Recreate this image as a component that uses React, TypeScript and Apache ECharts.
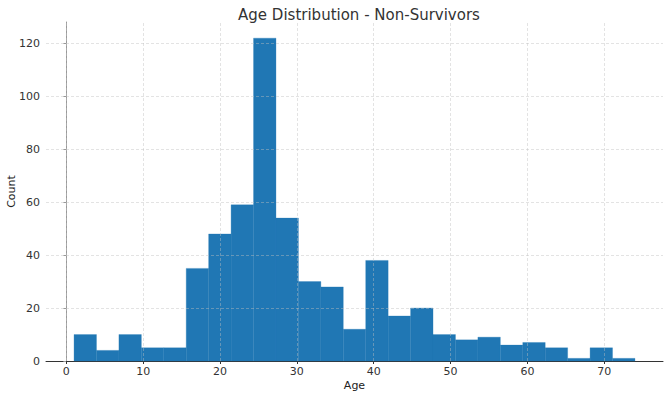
import React, { useEffect, useRef } from "react";
import * as echarts from "echarts";

const binStart = 1;
const binEnd = 74;
const counts = [10, 4, 10, 5, 5, 35, 48, 59, 122, 54, 30, 28, 12, 38, 17, 20, 10, 8, 9, 6, 7, 5, 1, 5, 1];
const xTicks = [0, 10, 20, 30, 40, 50, 60, 70];
const yTicks = [0, 20, 40, 60, 80, 100, 120];

export default function App() {
  const ref = useRef<HTMLDivElement>(null);
  useEffect(() => {
    const chart = echarts.init(ref.current!, undefined, { renderer: "svg" });
    const w = (binEnd - binStart) / counts.length;
    const data = counts.map((c, i) => [binStart + i * w, binStart + (i + 1) * w, c]);
    const font = "DejaVu Sans";
    const gridStyle = { color: "rgba(190,190,190,0.55)", type: [3, 2] as any, width: 0.8 };
    chart.setOption({
      animation: false,
      title: {
        text: "Age Distribution - Non-Survivors",
        left: 354,
        textAlign: "center",
        top: 2,
        textStyle: { fontFamily: font, fontSize: 15, fontWeight: "normal", color: "#333" },
      },
      grid: { left: 46, right: 4, top: 22, bottom: 35, outerBoundsMode: "none", containLabel: false },
      xAxis: {
        type: "value",
        min: -2.65,
        max: 77.65,
        name: "Age",
        nameLocation: "middle",
        nameGap: 19,
        nameMoveOverlap: false,
        nameTextStyle: { fontFamily: font, fontSize: 11, color: "#222" },
        axisLine: { show: true, lineStyle: { color: "#333", width: 1 } },
        axisTick: { show: true, customValues: xTicks, length: 3, lineStyle: { color: "#333" } },
        axisLabel: { customValues: xTicks, fontFamily: font, fontSize: 11, color: "#333", margin: 5 },
        splitLine: { show: false },
      },
      yAxis: {
        type: "value",
        min: 0,
        max: 128.1,
        name: "Count",
        nameLocation: "middle",
        nameGap: 29,
        nameMoveOverlap: false,
        nameTextStyle: { fontFamily: font, fontSize: 11, color: "#222" },
        axisLine: { show: true, lineStyle: { color: "#999", width: 1 } },
        axisTick: { show: true, customValues: yTicks, length: 3, lineStyle: { color: "#999" } },
        axisLabel: { customValues: yTicks, fontFamily: font, fontSize: 11, color: "#333", margin: 6 },
        splitLine: { show: false },
      },
      series: [
        {
          type: "custom",
          data,
          renderItem: (params: any, api: any) => {
            const p0 = api.coord([api.value(0), api.value(2)]);
            const p1 = api.coord([api.value(1), 0]);
            return {
              type: "rect",
              shape: { x: p0[0], y: p0[1], width: p1[0] - p0[0], height: p1[1] - p0[1] },
              style: { fill: "#2077b4", stroke: "#2077b4", lineWidth: 0.3 },
            };
          },
          encode: { x: [0, 1], y: 2 },
          z: 2,
        },
        {
          type: "line",
          data: [],
          z: 5,
          markLine: {
            silent: true,
            symbol: "none",
            label: { show: false },
            lineStyle: gridStyle,
            data: [
              ...xTicks.map((v) => ({ xAxis: v })),
              ...yTicks.filter((v) => v > 0).map((v) => ({ yAxis: v })),
            ],
          },
        },
      ],
    });
    return () => chart.dispose();
  }, []);
  return <div ref={ref} style={{ width: 667, height: 396, position: "absolute", left: 0, top: 0 }} />;
}
